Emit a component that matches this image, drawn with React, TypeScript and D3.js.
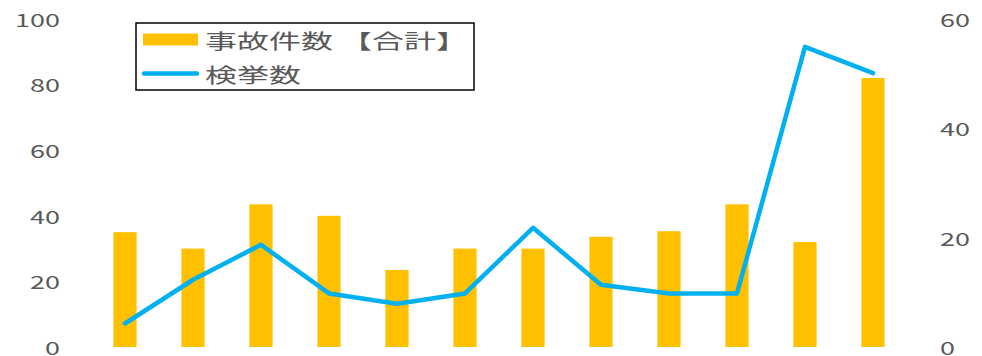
import React from "react";
import * as d3 from "d3";

const categories = ["1", "2", "3", "4", "5", "6", "7", "8", "9", "10", "11", "12"];
const accidents = [35, 30, 43.5, 40, 23.5, 30, 30, 33.6, 35.3, 43.5, 32, 82];
const arrests = [4.3, 12.3, 18.7, 9.8, 7.9, 9.8, 21.8, 11.4, 9.8, 9.8, 54.9, 50.1];
const leftTicks = [0, 20, 40, 60, 80, 100];
const rightTicks = [0, 20, 40, 60];
const seriesNames = ["事故件数 【合計】", "検挙数"];

const W = 982;
const H = 356;
const top = 19;
const bottom = 347;
const FONT = "'Noto Sans CJK JP', 'Noto Sans', sans-serif";
const GREY = "#595959";
const SX = 1.5;

export default function App() {
  const x = d3.scaleBand<string>().domain(categories).range([91, 907]).paddingInner(0.66).paddingOuter(0.33);
  const yL = d3.scaleLinear().domain([0, 100]).range([bottom, top]);
  const yR = d3.scaleLinear().domain([0, 60]).range([bottom, top]);
  const line = d3
    .line<number>()
    .x((_, i) => (x(categories[i]) as number) + x.bandwidth() / 2)
    .y((d) => yR(d));

  return (
    <svg width={W} height={H} style={{ position: "fixed", left: 0, top: 0, background: "#fff" }}>
      <rect width={W} height={H} fill="#fff" />
      {leftTicks.map((t) => (
        <text
          key={"l" + t}
          transform={`translate(60,${yL(t)}) scale(${SX},1)`}
          textAnchor="end"
          dominantBaseline="central"
          fontFamily={FONT}
          fontSize={18}
          fill={GREY}
        >
          {t}
        </text>
      ))}
      {rightTicks.map((t) => (
        <text
          key={"r" + t}
          transform={`translate(940,${yR(t)}) scale(${SX},1)`}
          textAnchor="start"
          dominantBaseline="central"
          fontFamily={FONT}
          fontSize={18}
          fill={GREY}
        >
          {t}
        </text>
      ))}
      {accidents.map((v, i) => (
        <rect
          key={"b" + i}
          x={x(categories[i])}
          y={yL(v)}
          width={x.bandwidth()}
          height={yL(0) - yL(v)}
          fill="#FFC000"
        />
      ))}
      <path d={line(arrests) || ""} fill="none" stroke="#00B0F0" strokeWidth={4.5} strokeLinejoin="round" strokeLinecap="round" />
      <rect x={136} y={23} width={338} height={67} fill="#fff" stroke="#000" strokeWidth={1.5} />
      <rect x={143} y={33.5} width={55} height={12} fill="#FFC000" />
      <line x1={144} x2={197} y1={73.5} y2={73.5} stroke="#00B0F0" strokeWidth={4.5} strokeLinecap="round" />
      <text
        transform={`translate(205,40) scale(1.6,1)`}
        dominantBaseline="central"
        fontFamily={FONT}
        fontSize={20}
        fill={GREY}
      >
        {seriesNames[0]}
      </text>
      <text
        transform={`translate(205,74) scale(1.6,1)`}
        dominantBaseline="central"
        fontFamily={FONT}
        fontSize={20}
        fill={GREY}
      >
        {seriesNames[1]}
      </text>
    </svg>
  );
}
